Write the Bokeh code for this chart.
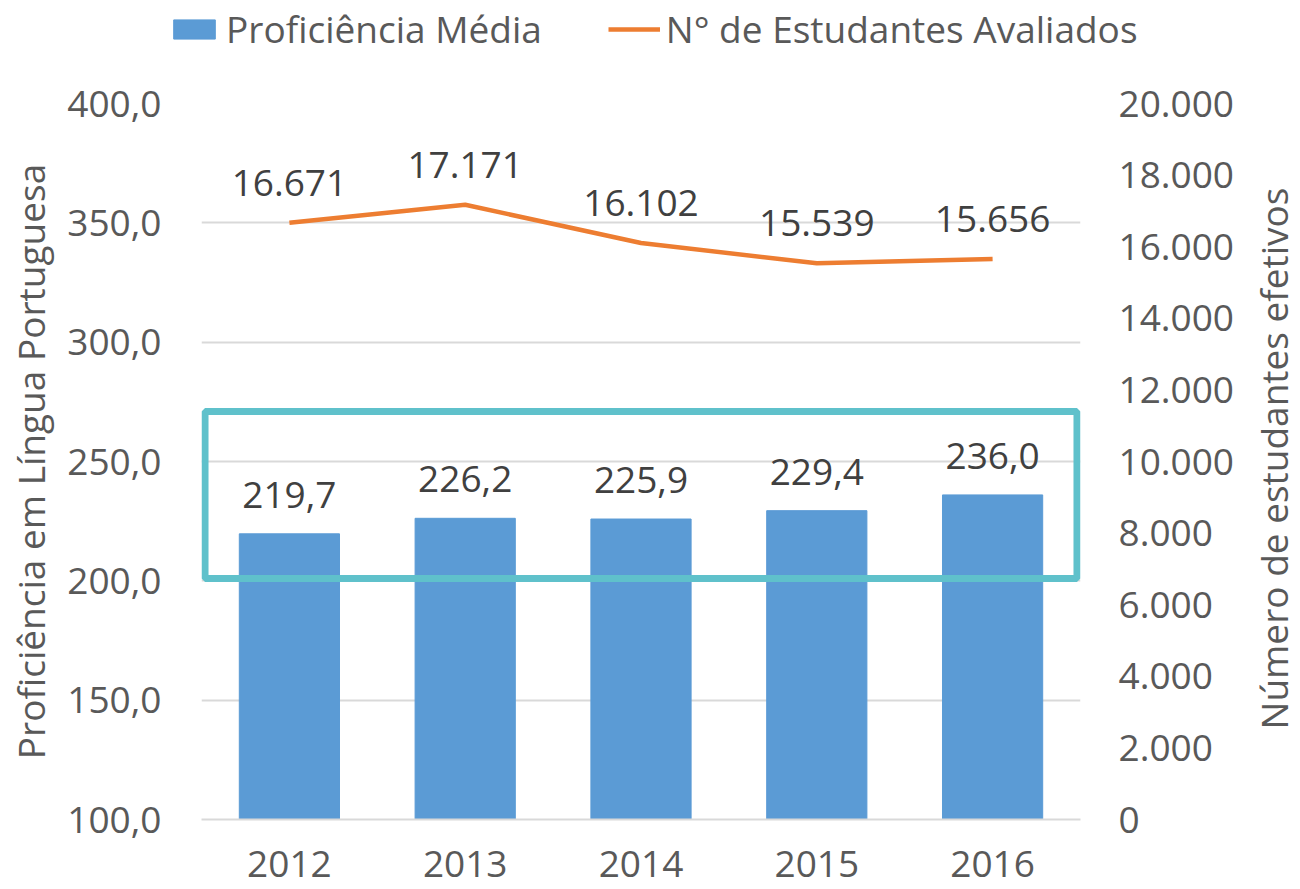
import math
from bokeh.plotting import figure
from bokeh.layouts import column, row
from bokeh.models import (Range1d, LinearAxis, FixedTicker, CustomJSTickFormatter,
                          ColumnDataSource, LabelSet, Legend, LegendItem, FactorRange, Label)
from bokeh.core.properties import value
from bokeh.embed import file_html
from bokeh.resources import INLINE

years = ["2012", "2013", "2014", "2015", "2016"]
proficiencia = [219.7, 226.2, 225.9, 229.4, 236.0]
estudantes = [16671, 17171, 16102, 15539, 15656]
prof_labels = ["219,7", "226,2", "225,9", "229,4", "236,0"]
est_labels = ["16.671", "17.171", "16.102", "15.539", "15.656"]
left_ticks = [100, 150, 200, 250, 300, 350, 400]
right_ticks = [0, 2000, 4000, 6000, 8000, 10000, 12000, 14000, 16000, 18000, 20000]
# highlight box (left-axis units, synthetic category coordinates)
box_left, box_right, box_bottom, box_top = 0.02, 4.98, 201.0, 271.0

FONT = "Open Sans"
TICK_COLOR = "#595959"
LABEL_COLOR = "#404040"
BLUE = "#5B9BD5"
ORANGE = "#ED7D31"
TEAL = "#5FC1CB"

src = ColumnDataSource(dict(years=years, prof=proficiencia, est=estudantes,
                            plab=prof_labels, elab=est_labels))

p = figure(x_range=FactorRange(*years), y_range=Range1d(100, 400),
           frame_width=879, frame_height=716,
           output_backend="svg", toolbar_location=None,
           min_border_left=201, min_border_top=43, min_border_right=160, min_border_bottom=70)
p.extra_y_ranges = {"right": Range1d(0, 20000)}
p.outline_line_color = None
p.background_fill_color = "white"

bars = p.vbar(x="years", top="prof", bottom=100, width=0.57, source=src,
              fill_color=BLUE, line_color=BLUE)
line = p.line(x="years", y="est", source=src, y_range_name="right",
              line_color=ORANGE, line_width=4.5)

p.quad(left=[box_left], right=[box_right], bottom=[box_bottom], top=[box_top],
       fill_alpha=0, line_color=TEAL, line_width=7)

p.add_layout(LabelSet(x="years", y="prof", text="plab", source=src, y_offset=26,
                      text_align="center", text_baseline="alphabetic",
                      text_font=value(FONT), text_font_size=value("37px"),
                      text_color=value(LABEL_COLOR)))
p.add_layout(LabelSet(x="years", y="est", text="elab", source=src, y_range_name="right",
                      y_offset=27, text_align="center", text_baseline="alphabetic",
                      text_font=value(FONT), text_font_size=value("37px"),
                      text_color=value(LABEL_COLOR)))

# axes
p.yaxis.ticker = FixedTicker(ticks=left_ticks)
p.yaxis.formatter = CustomJSTickFormatter(code="return tick.toFixed(1).replace('.', ',');")
p.yaxis.axis_label = "Proficiência em Língua Portuguesa"
ax_r = LinearAxis(y_range_name="right", ticker=FixedTicker(ticks=right_ticks),
                  formatter=CustomJSTickFormatter(code="return Math.round(tick).toString().replace(/\\B(?=(\\d{3})+(?!\\d))/g, '.');"))
p.add_layout(ax_r, "right")

for ax in [p.yaxis[0], ax_r]:
    ax.axis_line_color = None
    ax.major_tick_line_color = None
    ax.minor_tick_line_color = None
    ax.major_tick_out = 0
    ax.major_label_text_font = FONT
    ax.major_label_text_font_size = "37px"
    ax.major_label_text_color = TICK_COLOR
    ax.axis_label_text_font = FONT
    ax.axis_label_text_font_size = "37px"
    ax.axis_label_text_font_style = "normal"
    ax.axis_label_text_color = TICK_COLOR
p.yaxis[0].major_label_standoff = 40
p.yaxis[0].axis_label_standoff = 8
ax_r.major_label_standoff = 38

xa = p.xaxis[0]
xa.axis_line_color = "#D9D9D9"
xa.axis_line_width = 2
xa.major_tick_line_color = None
xa.minor_tick_line_color = None
xa.major_tick_out = 0
xa.major_label_text_font = FONT
xa.major_label_text_font_size = "37px"
xa.major_label_text_color = TICK_COLOR
xa.major_label_standoff = 31

p.xgrid.grid_line_color = None
p.ygrid.ticker = FixedTicker(ticks=left_ticks)
p.ygrid.grid_line_color = "#D9D9D9"
p.ygrid.grid_line_width = 2

# right axis title in a narrow strip (reads bottom-to-top)
rl = figure(width=60, height=829, output_backend="svg", toolbar_location=None,
            x_range=Range1d(0, 1), y_range=Range1d(0, 1), min_border=0)
rl.frame_align = False
rl.axis.visible = False
rl.grid.visible = False
rl.outline_line_color = None
rl.add_layout(Label(x=33, y=431, x_units="screen", y_units="screen",
                    text="Número de estudantes efetivos", angle=math.pi / 2,
                    text_align="center", text_baseline="middle",
                    text_font=FONT, text_font_size="37px", text_color=TICK_COLOR))

# legend strip above the chart (its renderers lie outside its view range)
lg = figure(width=1300, height=60, output_backend="svg", toolbar_location=None,
            x_range=FactorRange(*years), y_range=Range1d(1e7, 1e7 + 1), min_border=0)
lg.frame_align = False
lg.axis.visible = False
lg.grid.visible = False
lg.outline_line_color = None
lr1 = lg.vbar(x="years", top="prof", bottom=0, width=0.5, source=src,
              fill_color=BLUE, line_color=BLUE)
lr2 = lg.line(x="years", y="est", source=src, line_color=ORANGE, line_width=4.5)
legend = Legend(items=[LegendItem(label="Proficiência Média", renderers=[lr1]),
                       LegendItem(label="N° de Estudantes Avaliados", renderers=[lr2])],
                orientation="horizontal", location=(168, 6),
                padding=0, margin=0, spacing=66, label_standoff=6,
                glyph_width=52, glyph_height=24,
                label_text_font=FONT, label_text_font_size="37px",
                label_text_color=TICK_COLOR,
                border_line_alpha=0, background_fill_alpha=0)
lg.add_layout(legend, "center")

open("out.html", "w").write(file_html(column(lg, row(p, rl)), INLINE))
